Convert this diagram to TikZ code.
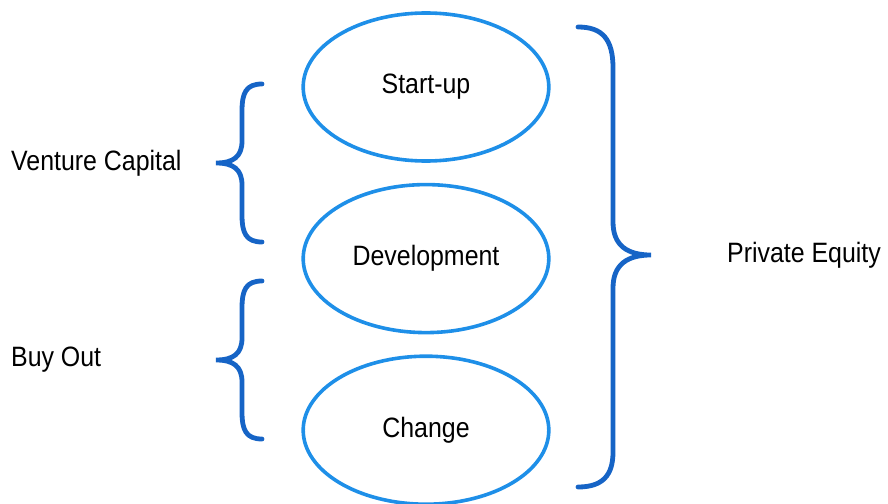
\documentclass[tikz,border=0pt]{standalone}
\usepackage{fontspec}
\setmainfont{Liberation Sans}
\usepackage{tikz}
\usetikzlibrary{shapes}
\usetikzlibrary{positioning}

\definecolor{ringblue}{HTML}{1E8FE8}
\definecolor{braceblue}{HTML}{1664C6}

\tikzset{
  phase/.style={ellipse, draw=ringblue, line width=3.6pt,
                minimum width=276pt, minimum height=148pt,
                font=\fontsize{28}{30}\selectfont, xscale=0.89},
  label/.style={font=\fontsize{28}{30}\selectfont, xscale=0.89, anchor=west},
  curly/.style={draw=braceblue, line width=4.8pt, line cap=round}
}

\begin{document}
\begin{tikzpicture}[x=1pt, y=-1pt]
  \useasboundingbox (0, 0) rectangle (888, 503);

  % the three stages
  \node[phase] (start) at (426, 87) {Start-up};
  \node[phase, below=20pt of start] (dev) {Development};
  \node[phase, below=20pt of dev] (change) {Change};

  % left braces: venture capital and buy out
  \foreach \ty in {163, 360} {
    \draw[curly] (262, \ty-79) .. controls (246, \ty-79) and (242, \ty-70) .. (242, \ty-52)
      -- (242, \ty-22) .. controls (242, \ty-6) and (233, \ty) .. (216, \ty)
      .. controls (233, \ty) and (242, \ty+6) .. (242, \ty+22)
      -- (242, \ty+52) .. controls (242, \ty+70) and (246, \ty+79) .. (262, \ty+79);
  }

  % right brace: private equity
  \draw[curly] (578, 27) .. controls (603, 27) and (613, 40) .. (613, 68)
    -- (613, 222) .. controls (613, 246) and (628, 255) .. (651, 255)
    .. controls (628, 255) and (613, 264) .. (613, 288)
    -- (613, 452) .. controls (613, 475) and (603, 487) .. (578, 487);

  \node[label] (vc) at (8, 163) {Venture Capital};
  \node[label] (bo) at (8, 360) {Buy Out};
  \node[label] (pe) at (724, 255) {Private Equity};
\end{tikzpicture}
\end{document}
